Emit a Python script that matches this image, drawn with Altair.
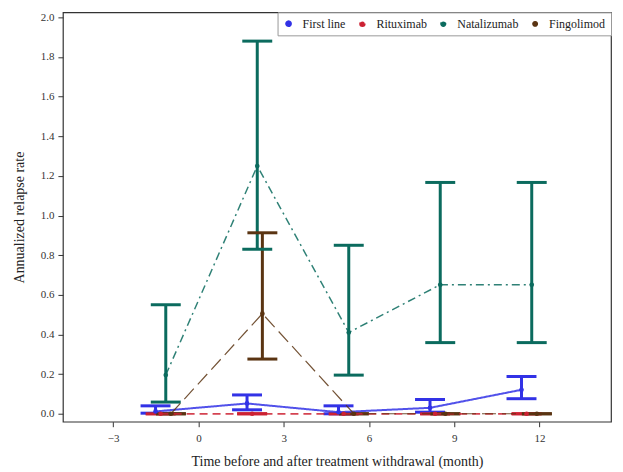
import altair as alt
import pandas as pd

series = ["First line", "Rituximab", "Natalizumab", "Fingolimod"]
colors = ["#3232E6", "#CC2233", "#0B6B5E", "#5A3412"]
dashes = [[1, 0], [8, 5], [8, 4, 2, 4], [14, 6]]
widths = [2.0, 1.2, 1.2, 1.2]

fl_x = [-1.51, 1.71, 4.93, 8.15, 11.37]
fl_mean = [0.012, 0.052, 0.008, 0.030, 0.121]
fl_low = [0.003, 0.020, 0.0, 0.008, 0.076]
fl_up = [0.040, 0.095, 0.040, 0.072, 0.188]

ri_x = [-1.33, 1.89, 5.11, 8.33, 11.55]
ri_mean = [0.0, 0.0, 0.0, 0.0, 0.0]
ri_low = [0.0, 0.0, 0.0, 0.0, 0.0]
ri_up = [0.0, 0.0, 0.0, 0.0, 0.0]

na_x = [-1.15, 2.07, 5.29, 8.51, 11.73]
na_mean = [0.195, 1.25, 0.41, 0.651, 0.651]
na_low = [0.059, 0.83, 0.195, 0.359, 0.359]
na_up = [0.55, 1.88, 0.85, 1.167, 1.167]

fi_x = [-0.97, 2.25, 5.47, 8.69, 11.91]
fi_mean = [0.0, 0.505, 0.0, 0.0, 0.0]
fi_low = [0.0, 0.276, 0.0, 0.0, 0.0]
fi_up = [0.0, 0.913, 0.0, 0.0, 0.0]

x_ticks = [-3, 0, 3, 6, 9, 12]
y_ticks = [0.0, 0.2, 0.4, 0.6, 0.8, 1.0, 1.2, 1.4, 1.6, 1.8, 2.0]

rows = []
for i, (s, xs, m, lo, up) in enumerate([
    (series[0], fl_x, fl_mean, fl_low, fl_up),
    (series[1], ri_x, ri_mean, ri_low, ri_up),
    (series[2], na_x, na_mean, na_low, na_up),
    (series[3], fi_x, fi_mean, fi_low, fi_up),
]):
    for j in range(len(xs)):
        rows.append({"series": s, "order": i, "x": xs[j], "mean": m[j], "low": lo[j], "up": up[j]})
df = pd.DataFrame(rows)

FONT = "Liberation Serif"

xscale = alt.Scale(domain=[-4.77, 14.52], nice=False, zero=False)
yscale = alt.Scale(domain=[-0.04, 2.025], nice=False, zero=False)
cscale = alt.Scale(domain=series, range=colors)

xax = alt.Axis(values=x_ticks, title="Time before and after treatment withdrawal (month)",
               grid=False, domain=False, tickSize=5, tickColor="#333", labelPadding=6,
               titlePadding=11)
yax = alt.Axis(values=y_ticks, format=".1f", title="Annualized relapse rate",
               grid=False, domain=False, tickSize=5, tickColor="#333", labelPadding=4,
               titlePadding=14)

legend = alt.Legend(title=None, orient="top-right", direction="horizontal",
                    offset=0, symbolType="circle", symbolSize=22,
                    symbolStrokeWidth=0,
                    labelFont=FONT, labelFontSize=12, labelColor="#222",
                    strokeColor="#999", fillColor="white", padding=5,
                    columnPadding=10, labelOffset=8)

color = alt.Color("series:N", scale=cscale, legend=legend)

base = alt.Chart(df)

lines = base.mark_line(opacity=0.85).encode(
    x=alt.X("x:Q", scale=xscale, axis=xax),
    y=alt.Y("mean:Q", scale=yscale, axis=yax),
    color=color,
    strokeDash=alt.StrokeDash("series:N", scale=alt.Scale(domain=series, range=dashes), legend=None),
    strokeWidth=alt.StrokeWidth("series:N", scale=alt.Scale(domain=series, range=widths), legend=None),
    detail="series:N",
    order="x:Q",
)

rules = base.mark_rule(strokeWidth=3).encode(
    x="x:Q", y="low:Q", y2="up:Q", color=color,
)

caps_up = base.mark_tick(orient="horizontal", size=30, thickness=3, opacity=1).encode(
    x="x:Q", y="up:Q", color=color,
)
caps_low = base.mark_tick(orient="horizontal", size=30, thickness=3, opacity=1).encode(
    x="x:Q", y="low:Q", color=color,
)

points = base.mark_point(filled=True, shape="circle", size=22, opacity=1).encode(
    x="x:Q", y="mean:Q", color=color,
)

chart = alt.layer(rules, caps_up, caps_low, lines, points).properties(
    width=549, height=410,
    autosize=alt.AutoSizeParams(type="none"),
    padding={"left": 55, "top": 4, "right": 4, "bottom": 48},
).configure_view(
    stroke="#333", strokeWidth=1.2
).configure_axis(
    labelFont=FONT, labelFontSize=11, labelColor="#333",
    titleFont=FONT, titleFontSize=14, titleFontWeight="normal", titleColor="#222"
).configure_legend(
    labelFont=FONT
)

chart.save("out.html", embed_options={"renderer": "svg", "actions": False})
